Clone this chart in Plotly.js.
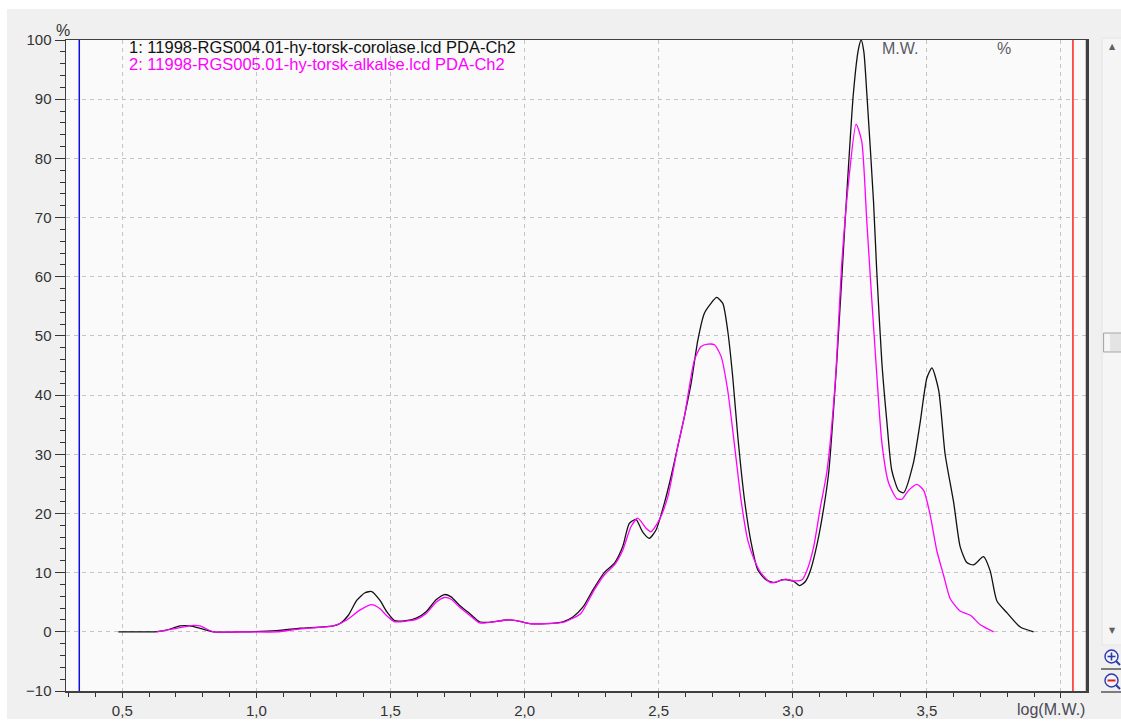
<!DOCTYPE html>
<html>
<head>
<meta charset="utf-8">
<script src="https://cdn.plot.ly/plotly-3.0.1.min.js"></script>
<style>
html,body{margin:0;padding:0;background:#ffffff;}
#chart{width:1121px;height:722px;}
</style>
</head>
<body>
<div id="chart"></div>
<script>
// ---- data ----
const series1Name = "1: 11998-RGS004.01-hy-torsk-corolase.lcd PDA-Ch2";
const series2Name = "2: 11998-RGS005.01-hy-torsk-alkalse.lcd PDA-Ch2";

const series1X = [0.485,0.55,0.622,0.665,0.715,0.752,0.79,0.84,0.95,1.076,1.163,1.287,1.312,1.343,1.374,1.405,1.43,1.461,1.486,1.515,1.558,1.596,1.633,1.67,1.701,1.726,1.757,1.795,1.832,1.869,1.932,1.969,2.019,2.081,2.143,2.18,2.218,2.255,2.297,2.335,2.366,2.39,2.415,2.44,2.465,2.49,2.521,2.546,2.571,2.596,2.621,2.646,2.67,2.695,2.716,2.739,2.757,2.776,2.795,2.82,2.845,2.869,2.9,2.932,2.96,2.98,3.004,3.026,3.047,3.066,3.091,3.116,3.134,3.164,3.195,3.226,3.245,3.255,3.265,3.276,3.301,3.313,3.332,3.351,3.369,3.394,3.413,3.45,3.475,3.5,3.519,3.544,3.568,3.6,3.624,3.649,3.674,3.711,3.736,3.761,3.799,3.848,3.898];
const series1Y = [0,0,0,0.3,1.0,1.0,0.6,0,0,0.2,0.6,1.0,1.4,2.8,5.3,6.6,6.8,5.3,3.4,1.9,1.9,2.3,3.4,5.4,6.3,5.9,4.5,3.1,1.7,1.6,2.0,1.9,1.4,1.4,1.7,2.5,4.2,7.1,10.0,11.6,14.4,18.3,19.0,16.9,15.8,17.2,21.7,26.2,31.3,36.4,42.0,49.3,53.8,55.5,56.5,55.5,51.0,43.1,33.0,22.3,15.0,10.5,8.8,8.3,8.8,8.8,8.5,7.8,8.5,10.4,14.9,21.1,27.0,45.6,69.3,91.0,98.5,100,98.0,91.0,72.7,61.0,45.6,35.4,27.3,23.9,23.5,28.6,35.4,42.9,44.6,40.8,30.0,21.8,14.4,11.7,11.3,12.7,10.3,5.2,3.2,0.8,0];

const series2X = [0.628,0.703,0.765,0.79,0.84,0.95,1.076,1.163,1.287,1.337,1.387,1.43,1.461,1.484,1.515,1.558,1.596,1.633,1.67,1.701,1.726,1.757,1.795,1.832,1.869,1.932,1.969,2.019,2.081,2.143,2.18,2.21,2.26,2.297,2.335,2.366,2.397,2.422,2.453,2.471,2.502,2.534,2.571,2.596,2.633,2.658,2.683,2.708,2.733,2.757,2.782,2.807,2.832,2.857,2.882,2.917,2.942,2.973,3.004,3.035,3.053,3.078,3.103,3.127,3.158,3.183,3.208,3.236,3.257,3.276,3.295,3.313,3.332,3.357,3.388,3.407,3.432,3.463,3.488,3.512,3.537,3.562,3.587,3.624,3.662,3.699,3.749];
const series2Y = [0,0.6,1.1,1.0,0,0,0,0.5,1.0,2.0,3.7,4.6,3.9,2.8,1.7,1.8,2.1,3.1,5.0,5.8,5.5,4.2,2.8,1.5,1.6,2.0,1.9,1.4,1.4,1.6,2.3,3.1,7.1,9.6,11.3,13.8,17.8,19.2,17.5,16.9,18.9,22.8,31.3,36.4,45.9,48.2,48.6,48.5,46.5,40.9,31.8,22.3,15.5,12.1,9.9,8.3,8.5,8.9,8.6,8.8,10.4,14.4,21.1,27.0,42.0,62.5,76.0,85.8,82.9,69.3,55.8,43.6,32.0,25.2,22.5,22.4,23.9,24.9,23.9,19.8,13.7,9.6,5.6,3.5,2.8,1.2,0];

const xTickVals = [0.5,1.0,1.5,2.0,2.5,3.0,3.5,4.0];
const xTickText = ["0,5","1,0","1,5","2,0","2,5","3,0","3,5",""];
const yTickVals = [-10,0,10,20,30,40,50,60,70,80,90,100];
const xAxisTitle = "log(M.W.)";
const yAxisTitle = "%";
const colHeaders = ["M.W.","%"];
const markerLeft = 0.3396;
const markerRight = 4.0446;

// ---- layout helpers (pixel -> paper) ----
const L = 66, R = 1087, T = 40, B = 691;
const PW = R - L, PH = B - T;
const px = v => (v - L) / PW;
const py = v => (B - v) / PH;

const FONT = '"Liberation Sans", Arial, sans-serif';

const traces = [
  {x: series1X, y: series1Y, type: 'scatter', mode: 'lines', name: series1Name,
   line: {color: '#111111', width: 1.3, shape: 'spline', smoothing: 0.6}},
  {x: series2X, y: series2Y, type: 'scatter', mode: 'lines', name: series2Name,
   line: {color: '#ff00ff', width: 1.3, shape: 'spline', smoothing: 0.6}}
];

const shapes = [
  {type:'rect', xref:'paper', yref:'paper', x0:px(0), x1:px(1121), y0:py(0), y1:py(9), fillcolor:'#ffffff', line:{width:0}, layer:'below'},
  {type:'rect', xref:'paper', yref:'paper', x0:px(0), x1:px(7), y0:py(0), y1:py(722), fillcolor:'#ffffff', line:{width:0}, layer:'below'},
  {type:'rect', xref:'paper', yref:'paper', x0:px(0), x1:px(1121), y0:py(719), y1:py(722), fillcolor:'#ffffff', line:{width:0}, layer:'below'},
  {type:'line', xref:'x', yref:'paper', x0:markerLeft, x1:markerLeft, y0:0, y1:1, line:{color:'#1010e0', width:1.5}},
  {type:'line', xref:'x', yref:'paper', x0:markerRight, x1:markerRight, y0:0, y1:1, line:{color:'#ff2020', width:1.5}},
  {type:'line', xref:'paper', yref:'paper', x0:1, x1:1, y0:0, y1:1, line:{color:'#404040', width:2.5}},
  {type:'rect', xref:'paper', yref:'paper', x0:px(1102), x1:px(1123), y0:py(645), y1:py(38), fillcolor:'#f5f5f5', line:{color:'#e4e4e4', width:1}, layer:'below'},
  {type:'rect', xref:'paper', yref:'paper', x0:px(1103.5), x1:px(1124), y0:py(352), y1:py(333), fillcolor:'#e4e4e4', line:{color:'#a8a8a8', width:1}},
  {type:'rect', xref:'paper', yref:'paper', x0:px(1104.5), x1:px(1110), y0:py(351), y1:py(334), fillcolor:'#f6f6f6', line:{width:0}},
  {type:'circle', xref:'paper', yref:'paper', x0:px(1105), x1:px(1118), y0:py(663), y1:py(650), fillcolor:'#f4f4ff', line:{color:'#2a3aa8', width:1.4}},
  {type:'line', xref:'paper', yref:'paper', x0:px(1107.5), x1:px(1115.5), y0:py(656.5), y1:py(656.5), line:{color:'#2a3aa8', width:1.6}},
  {type:'line', xref:'paper', yref:'paper', x0:px(1111.5), x1:px(1111.5), y0:py(652.5), y1:py(660.5), line:{color:'#2a3aa8', width:1.6}},
  {type:'line', xref:'paper', yref:'paper', x0:px(1116), x1:px(1120), y0:py(661), y1:py(665), line:{color:'#2a3aa8', width:2}},
  {type:'line', xref:'paper', yref:'paper', x0:px(1101), x1:px(1121), y0:py(669), y1:py(669), line:{color:'#303030', width:1.2}},
  {type:'circle', xref:'paper', yref:'paper', x0:px(1105), x1:px(1118), y0:py(687), y1:py(674), fillcolor:'#f4f4ff', line:{color:'#2a3aa8', width:1.4}},
  {type:'line', xref:'paper', yref:'paper', x0:px(1107.5), x1:px(1115.5), y0:py(680.5), y1:py(680.5), line:{color:'#e02020', width:2}},
  {type:'line', xref:'paper', yref:'paper', x0:px(1116), x1:px(1120), y0:py(685), y1:py(689), line:{color:'#2a3aa8', width:2}},
  {type:'line', xref:'paper', yref:'paper', x0:px(1101), x1:px(1121), y0:py(692), y1:py(692), line:{color:'#303030', width:1.2}}
];

const annotations = [
  {xref:'paper', yref:'paper', x:px(127), y:py(47), xanchor:'left', yanchor:'middle', text:series1Name, showarrow:false, font:{family:FONT, size:16.5, color:'#111111'}},
  {xref:'paper', yref:'paper', x:px(127), y:py(64), xanchor:'left', yanchor:'middle', text:series2Name, showarrow:false, font:{family:FONT, size:16.5, color:'#ff00ff'}},
  {xref:'paper', yref:'paper', x:px(900), y:py(48), xanchor:'center', yanchor:'middle', text:colHeaders[0], showarrow:false, font:{family:FONT, size:16, color:'#5a5a66'}},
  {xref:'paper', yref:'paper', x:px(1004), y:py(48), xanchor:'center', yanchor:'middle', text:colHeaders[1], showarrow:false, font:{family:FONT, size:16, color:'#5a5a66'}},
  {xref:'paper', yref:'paper', x:px(63), y:py(31), xanchor:'center', yanchor:'middle', text:yAxisTitle, showarrow:false, font:{family:FONT, size:16, color:'#333333'}},
  {xref:'paper', yref:'paper', x:px(1051), y:py(709), xanchor:'center', yanchor:'middle', text:xAxisTitle, showarrow:false, font:{family:FONT, size:16, color:'#4a4a55'}},
  {xref:'paper', yref:'paper', x:px(1112), y:py(47), xanchor:'center', yanchor:'middle', text:'▲', showarrow:false, font:{family:'DejaVu Sans', size:8, color:'#606060'}},
  {xref:'paper', yref:'paper', x:px(1112), y:py(630), xanchor:'center', yanchor:'middle', text:'▼', showarrow:false, font:{family:'DejaVu Sans', size:8, color:'#606060'}}
];

const layout = {
  width: 1121, height: 722,
  margin: {l: L, r: 1121 - R, t: T, b: 722 - B, pad: 0},
  paper_bgcolor: '#f0f0f0',
  plot_bgcolor: '#fafafa',
  showlegend: false,
  font: {family: FONT, size: 15, color: '#333333'},
  xaxis: {
    range: [0.2901, 4.097], fixedrange: true,
    tickmode: 'array', tickvals: xTickVals, ticktext: xTickText,
    ticks: 'outside', ticklen: 5, tickwidth: 1, tickcolor: '#333333',
    showgrid: true, gridcolor: '#c4c4c4', gridwidth: 1, griddash: '4px,4px',
    zeroline: false,
    showline: true, mirror: true, linecolor: '#404040', linewidth: 1.5,
    tickfont: {family: FONT, size: 15, color: '#333333'},
    minor: {dtick: 0.1, tick0: 0, ticks: 'outside', ticklen: 4, tickcolor: '#333333', showgrid: false}
  },
  yaxis: {
    range: [-10, 100], fixedrange: true,
    tickmode: 'array', tickvals: yTickVals,
    ticks: 'outside', ticklen: 10, tickwidth: 1, tickcolor: '#333333',
    showgrid: true, gridcolor: '#c4c4c4', gridwidth: 1, griddash: '4px,4px',
    zeroline: false,
    showline: true, mirror: true, linecolor: '#404040', linewidth: 1.5,
    tickfont: {family: FONT, size: 15, color: '#333333'},
    minor: {dtick: 2, tick0: 0, ticks: 'outside', ticklen: 5, tickcolor: '#333333', showgrid: false}
  },
  shapes: shapes,
  annotations: annotations
};

Plotly.newPlot('chart', traces, layout, {staticPlot: true, displayModeBar: false});
</script>
</body>
</html>
